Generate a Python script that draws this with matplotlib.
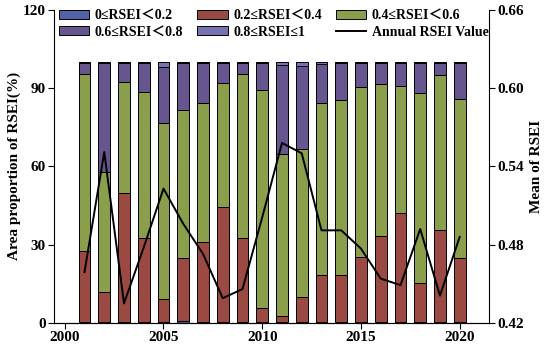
import matplotlib
matplotlib.use("Agg")
import matplotlib.pyplot as plt
import numpy as np

plt.rcParams['font.family'] = ['Liberation Serif', 'Noto Sans CJK SC', 'DejaVu Sans']
plt.rcParams['font.weight'] = 'bold'

years = list(range(2001, 2021))
class1 = [0.3, 0.5, 0.3, 0.3, 0.3, 0.8, 0.3, 0.3, 0.3, 0.3, 0.3, 0.3, 0.3, 0.3, 0.3, 0.3, 0.3, 0.3, 0.3, 0.3]
red_top = [27.6, 11.9, 49.7, 32.5, 9.3, 25.0, 31.1, 44.6, 32.5, 5.9, 2.8, 10.1, 18.4, 18.4, 25.2, 33.3, 42.0, 15.4, 35.6, 24.8]
green_top = [95.4, 58.0, 92.4, 88.4, 76.7, 81.7, 84.2, 91.8, 95.4, 89.4, 64.8, 66.8, 84.2, 85.4, 90.3, 91.6, 90.7, 88.1, 95.0, 85.9]
class5 = [0.3, 0.3, 0.3, 0.3, 2.0, 0.3, 0.3, 0.3, 0.3, 0.3, 1.0, 1.5, 0.8, 0.3, 0.3, 0.3, 0.3, 0.3, 0.3, 0.3]
rsei_mean = [0.459, 0.551, 0.435, 0.478, 0.523, 0.496, 0.473, 0.439, 0.446, 0.501, 0.558, 0.550, 0.491, 0.491, 0.477, 0.454, 0.449, 0.492, 0.441, 0.486]

labels = ['0≤RSEI＜0.2', '0.2≤RSEI＜0.4', '0.4≤RSEI＜0.6', '0.6≤RSEI＜0.8', '0.8≤RSEI≤1']
colors = ['#5262AA', '#9A4A42', '#8A9E4C', '#67558F', '#7672B4']

c1 = np.array(class1)
c2 = np.array(red_top) - c1
c3 = np.array(green_top) - np.array(red_top)
c5 = np.array(class5)
c4 = 100 - np.array(green_top) - c5
parts = [c1, c2, c3, c4, c5]

FS = 11
fig = plt.figure(figsize=(5.5, 3.54), dpi=100)
ax = fig.add_axes([0.098, 0.0876, 0.7917, 0.8847])
x = np.array(years)
bottom = np.zeros(len(years))
handles = []
for vals, col, lab in zip(parts, colors, labels):
    h = ax.bar(x, vals, width=0.6, bottom=bottom, color=col, edgecolor='black', linewidth=0.7, label=lab)
    handles.append(h)
    bottom += vals

ax.set_xlim(1999.45, 2021.5)
ax.set_ylim(0, 120)
ax.set_yticks([0, 30, 60, 90, 120])
ax.set_xticks([2000, 2005, 2010, 2015, 2020])
ax.set_ylabel('Area proportion of RSEI(%)', fontsize=FS, fontweight='bold', labelpad=1)
ax.spines['top'].set_visible(False)
ax.spines['right'].set_visible(False)
ax.tick_params(direction='out', length=4, labelsize=FS, pad=2)
for t in ax.get_xticklabels() + ax.get_yticklabels():
    t.set_fontweight('bold')

ax2 = ax.twinx()
ln, = ax2.plot(x, rsei_mean, color='black', linewidth=1.4, label='Annual RSEI Value')
ax2.set_ylim(0.42, 0.66)
ax2.set_yticks([0.42, 0.48, 0.54, 0.60, 0.66])
ax2.set_yticklabels(['0.42', '0.48', '0.54', '0.60', '0.66'])
ax2.set_ylabel('Mean of RSEI', fontsize=FS, fontweight='bold', labelpad=4)
ax2.spines['top'].set_visible(False)
ax2.spines['left'].set_visible(False)
ax2.tick_params(direction='out', length=4, labelsize=FS, pad=2)
for t in ax2.get_yticklabels():
    t.set_fontweight('bold')

all_h = handles + [ln]
all_l = labels + ['Annual RSEI Value']
order = [0, 3, 1, 4, 2, 5]
ax2.legend(handles=[all_h[i] for i in order], labels=[all_l[i] for i in order], ncol=3,
           loc='upper left', bbox_to_anchor=(-0.002, 1.02), frameon=False,
           handlelength=2.2, handleheight=0.6, columnspacing=1.0, handletextpad=0.4,
           labelspacing=0.25, borderaxespad=0.2, borderpad=0.2,
           prop={'weight': 'bold', 'size': 10})

fig.savefig('out.png', dpi=100)
